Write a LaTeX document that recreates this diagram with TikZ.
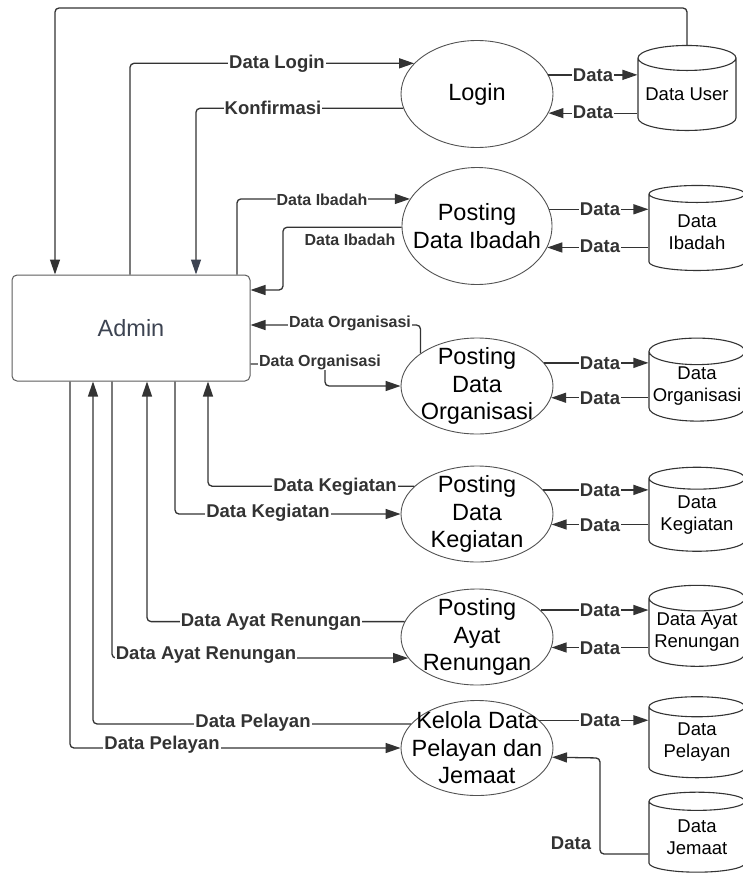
\documentclass[tikz,border=0pt]{standalone}
\usepackage{fontspec}
\setmainfont{Liberation Sans}
\usetikzlibrary{shapes.geometric, arrows.meta}
\definecolor{ink}{HTML}{333333}
\definecolor{slate}{HTML}{3D4452}
\tikzset{
  ptxt/.style={inner sep=0pt, align=center, font=\fontsize{23.5}{27.5}\selectfont},
  proc/.style={ellipse, draw=ink!85, line width=0.9pt, inner sep=0pt,
    minimum width=152pt, minimum height=96pt, label={[ptxt]center:#1}},
  store/.style={cylinder, shape border rotate=90, aspect=0.3, draw=ink, line width=1.1pt,
    inner sep=0pt, align=center, minimum width=96pt, font=\fontsize{18.5}{22}\selectfont},
  flow/.style={draw=ink, line width=1.3pt, rounded corners=4pt, -{Triangle[length=15pt, width=10pt]}},
  lbl/.style={fill=white, inner sep=1pt, text=ink, font=\bfseries\fontsize{18.5}{20}\selectfont},
  slbl/.style={lbl, font=\bfseries\fontsize{16}{18}\selectfont},
}
\begin{document}
\begin{tikzpicture}[x=1pt, y=-1pt]
\useasboundingbox (0,0) rectangle (743,878);

% entity and processes
\node[draw=ink!80, line width=1pt, rounded corners=5pt, minimum width=238pt, minimum height=106pt,
  text=slate, font=\fontsize{23.5}{28}\selectfont] (admin) at (131,328) {Admin};
\node[proc={Login}, minimum height=107pt] (login) at (477,94) {};
\node[proc={Posting\\Data Ibadah}, minimum width=150pt, minimum height=117pt] (ibadah) at (477,226) {};
\node[proc={Posting\\Data\\Organisasi}] (organisasi) at (477,386) {};
\node[proc={Posting\\Data\\Kegiatan}] (kegiatan) at (477,514) {};
\node[proc={Posting\\Ayat\\Renungan}] (ayat) at (477,637) {};
\node[proc={Kelola Data\\Pelayan dan\\Jemaat}, minimum height=95pt] (kelola) at (477,748) {};

% data stores
\node[store, minimum width=98pt, minimum height=85pt] (dbUser) at (687,94.5) {Data User};
\node[store, minimum height=85pt] (dbIbadah) at (697,232.5) {Data\\Ibadah};
\node[store, minimum height=83pt] (dbOrg) at (697,386.5) {Data\\Organisasi};
\node[store, minimum height=84pt] (dbKeg) at (697,515) {Data\\Kegiatan};
\node[store, minimum height=81pt] (dbAyat) at (697,632.5) {Data Ayat\\Renungan};
\node[store, minimum height=81pt] (dbPelayan) at (697,742.5) {Data\\Pelayan};
\node[store, minimum height=80pt] (dbJemaat) at (697,837) {Data\\Jemaat};

% admin <-> processes
\draw[flow] (dbUser.north) |- (55,8) -- (55,8 |- admin.north);
\draw[flow] (130,0 |- admin.north) |- (login.154.5);
\draw[draw=ink, line width=1.3pt, rounded corners=4pt, -{Triangle[length=15pt, width=10pt, color=slate]}]
  (login.-169.2) -| (196,0 |- admin.north);
\draw[flow] (237,0 |- admin.north) |- (ibadah.158.9);
\draw[flow] (ibadah.181.5) -| (283,290) -- (admin.east |- 0,290);
\draw[flow] (organisasi.150.9) |- (admin.east |- 0,325);
\draw[flow] (admin.east |- 0,364) -| (325,386) -- (organisasi.west);
\draw[flow] (kegiatan.156.7) -| (208,0 |- admin.south);
\draw[flow] (175,0 |- admin.south) |- (kegiatan.west);
\draw[flow] (ayat.168.3) -| (147,0 |- admin.south);
\draw[flow] (112,0 |- admin.south) |- (ayat.-163.9);
\draw[flow] (kelola.160.9) -| (93,0 |- admin.south);
\draw[flow] (70,0 |- admin.south) |- (kelola.west);

\node[lbl] (tLogin) at (277,64) {Data Login};
\node[lbl] (tKonf) at (273,108) {Konfirmasi};
\node[slbl] (tIbd1) at (322,200) {Data Ibadah};
\node[slbl] (tIbd2) at (350,240) {Data Ibadah};
\node[slbl] (tOrg1) at (350,323) {Data Organisasi};
\node[slbl] (tOrg2) at (320,362) {Data Organisasi};
\node[lbl] (tKeg1) at (335,487) {Data Kegiatan};
\node[lbl] (tKeg2) at (268,513) {Data Kegiatan};
\node[lbl] (tAyat1) at (271,622) {Data Ayat Renungan};
\node[lbl] (tAyat2) at (206,655) {Data Ayat Renungan};
\node[lbl] (tPel1) at (253,723) {Data Pelayan};
\node[lbl] (tPel2) at (162,745) {Data Pelayan};

% processes <-> data stores
\draw[flow] (login.15) -- (login.15 -| dbUser.west);
\draw[flow] (login.-15 -| dbUser.west) -- (login.-15);
\draw[flow] (ibadah.13.3) -- (ibadah.13.3 -| dbIbadah.west);
\draw[flow] (ibadah.-17.6 -| dbIbadah.west) -- (ibadah.-17.6);
\draw[flow] (organisasi.19) -- (organisasi.19 -| dbOrg.west);
\draw[flow] (organisasi.-9.3 -| dbOrg.west) -- (organisasi.-9.3);
\draw[flow] (kegiatan.20) -- (kegiatan.20 -| dbKeg.west);
\draw[flow] (kegiatan.-8.5 -| dbKeg.west) -- (kegiatan.-8.5);
\draw[flow] (ayat.23.3) -- (ayat.23.3 -| dbAyat.west);
\draw[flow] (ayat.-8.5 -| dbAyat.west) -- (ayat.-8.5);
\draw[flow] (kelola.24.5) -- (kelola.24.5 -| dbPelayan.west);
\draw[flow] (dbJemaat.west |- 0,854) -| (600,758) -- (kelola.-7.7);

\node[lbl] (dU1) at (593,75) {Data};
\node[lbl] (dU2) at (593,112) {Data};
\node[lbl] (dI1) at (600,209) {Data};
\node[lbl] (dI2) at (600,246) {Data};
\node[lbl] (dO1) at (600,363) {Data};
\node[lbl] (dO2) at (600,398) {Data};
\node[lbl] (dK1) at (600,490) {Data};
\node[lbl] (dK2) at (600,525) {Data};
\node[lbl] (dA1) at (600,610) {Data};
\node[lbl] (dA2) at (600,648) {Data};
\node[lbl] (dP1) at (600,720) {Data};
\node[lbl] (dJ1) at (571,843) {Data};
\end{tikzpicture}
\end{document}
